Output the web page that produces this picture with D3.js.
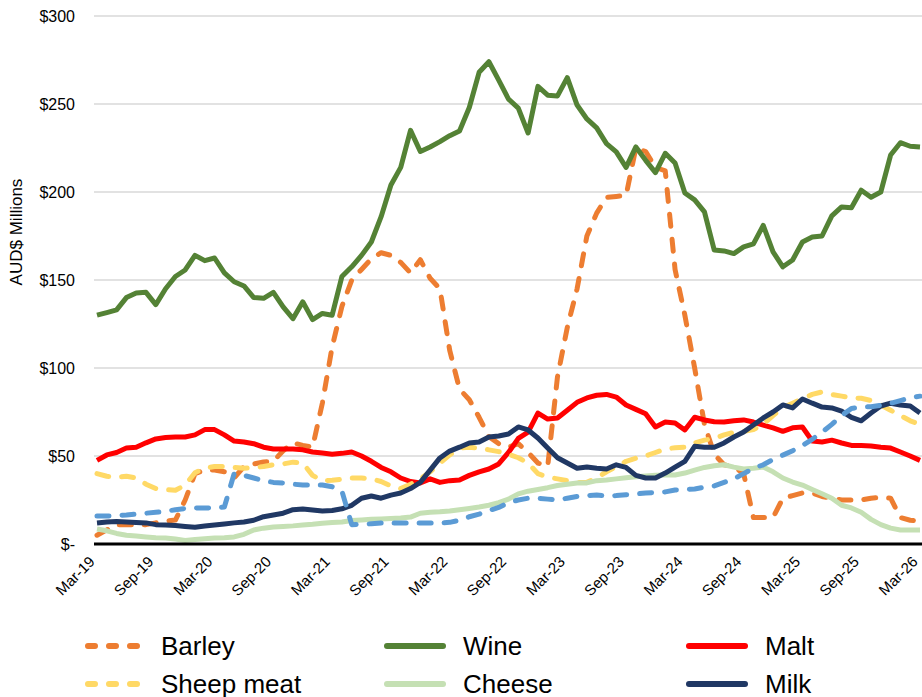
<!DOCTYPE html>
<html lang="en">
<head>
    <meta charset="UTF-8">
    <title>Exports chart</title>
    <script src="https://d3js.org/d3.v7.min.js"></script>
    <style>
        body {
            margin: 0;
            padding: 0;
            background: #ffffff;
        }
        svg {
            display: block;
            font-family: "Liberation Sans", Arial, sans-serif;
        }
        .grid line {
            stroke: #d9d9d9;
            stroke-width: 1.5;
        }
        .y-label, .x-label {
            fill: #000000;
        }
    </style>
</head>
<body>
    <svg id="chart"></svg>

    <script>
        // monthly series, Mar-19 .. Mar-26 (85 points)
        const barley = [
            5, 8, 11, 11, 11, 11, 12, 13, 13.6, 25,
            40, 42, 42, 41, 37.5, 44, 45.5, 46.6, 47, 53,
            57.5, 56, 55, 80, 112, 135, 150, 156, 162, 165.5,
            164, 160, 154, 161.5, 151, 145, 110, 88, 82, 72,
            61, 57, 55, 57, 52, 46, 44, 95, 123, 145,
            175, 188, 197, 197.5, 198, 225, 223, 214, 212, 156,
            130, 100, 68, 51, 45, 44, 40, 15, 15, 15,
            26, 27.5, 29, 29, 27, 26, 25, 25, 25, 26,
            26.5, 26, 15, 13.5, 13
        ];
        const wine = [
            130, 131.5, 133, 140, 142.6, 143, 136, 145, 152, 155.7,
            164, 161, 162.5, 154, 149, 146.6, 140, 139.6, 143, 134.7,
            128, 137.6, 127.5, 131, 130, 152, 157.5, 164, 171.6, 186,
            204, 214, 235, 223, 225.6, 228.6, 232, 234.7, 248, 268,
            274, 263.6, 252.8, 247.7, 233.5, 260, 255, 254.6, 265, 249.4,
            241.5, 236.4, 227.5, 222.8, 214, 225.6, 218, 211, 222, 216.5,
            199.4, 195.5, 188.7, 167, 166.5, 165, 168.8, 170.5, 181, 166,
            157.5, 161.4, 171.6, 174.4, 175, 186.4, 191.5, 191, 201, 197,
            200, 221, 228, 226, 225.6
        ];
        const malt = [
            47.5, 50.6, 52, 54.5, 55, 57.5, 59.7, 60.5, 60.8, 60.8,
            62, 65, 65, 62, 58.5, 58, 57, 55, 54, 54,
            54, 53.5, 52.3, 51.7, 51, 51.5, 52.3, 50, 47, 43.5,
            41, 37.5, 35.5, 34.7, 37, 35, 36, 36.4, 39, 41,
            42.6, 45.5, 52, 60, 63.6, 74.4, 71, 71.6, 76, 80.5,
            83, 84.5, 85, 83.5, 79, 76.5, 74, 66.5, 69.3, 68.8,
            64.8, 72, 70.5, 69.5, 69.3, 70, 70.5, 69.3, 67.6, 66,
            64, 66, 66.5, 58.5, 58, 59, 57.4, 56, 56, 55.7,
            55, 54.5, 52.3, 50, 47.5
        ];
        const sheepMeat = [
            40, 38.5, 38, 38.5, 37.5, 34, 31.5, 31, 30.5, 33.5,
            40.5, 43, 44, 44, 43.5, 43, 43.5, 44, 45, 45.5,
            46.5, 46, 39, 36, 36.2, 36.8, 37.5, 37.5, 37, 35.5,
            33, 31.5, 34, 37, 41, 46, 50.6, 54.5, 55, 54.5,
            53.5, 52.5, 51, 49, 46, 40, 38, 37, 36, 35,
            35, 37.5, 41, 44, 47, 48.7, 50, 52, 54, 54.7,
            55, 57.4, 59, 60, 62, 63.4, 64, 65, 68, 73,
            77.5, 80, 82.5, 85, 86.4, 85, 84, 83, 82.8, 81.5,
            79, 76, 73, 70, 68
        ];
        const cheese = [
            8.5, 7.5, 6, 5, 4.5, 4, 3.6, 3.4, 2.8, 2,
            2.5, 3, 3.4, 3.6, 4, 5.5, 8, 9, 9.7, 10,
            10.3, 10.8, 11.2, 11.8, 12.2, 12.5, 13.3, 13.6, 14, 14.2,
            14.5, 14.8, 15.3, 17.5, 18, 18.3, 18.8, 19.5, 20.2, 21,
            22, 23.5, 25.5, 28.5, 30, 31, 32, 33.2, 34, 34.7,
            34.7, 36, 36.4, 37, 37.7, 38.2, 38.6, 39, 39.2, 39.2,
            40.3, 42, 43.5, 44.5, 45, 43.7, 42.6, 43, 43.7, 41,
            37.5, 35.2, 33.5, 31, 28.5, 26, 22, 20.5, 18, 14,
            11, 9, 8, 8, 8
        ];
        const milk = [
            11.9, 12.5, 12.8, 12.5, 12.2, 12, 11, 10.8, 10.5, 10,
            9.5, 10.2, 10.8, 11.4, 12, 12.5, 13.5, 15.5, 16.5, 17.5,
            19.5, 19.9, 19.3, 18.8, 19, 20, 22, 26, 27.3, 26,
            27.8, 29, 31.5, 35, 42, 48.9, 52.8, 55, 57.4, 58,
            60.8, 61.4, 62.5, 66.5, 64.8, 60.2, 54.5, 49, 46, 43,
            43.7, 43, 42.6, 45, 43.5, 39, 37.5, 37.5, 40.3, 43.7,
            47, 55.5, 55, 55, 57.4, 60.8, 63.6, 67.6, 71.6, 75,
            79, 77.3, 82.4, 80, 77.8, 77.3, 75.5, 72, 70, 74.4,
            78.4, 80, 79, 78.4, 74.4
        ];
        const beef = [
            15.9, 15.9, 16.2, 16.5, 17, 17.5, 18, 18.5, 19.5, 20.2,
            20.5, 20.5, 20.5, 21, 40, 39, 37.5, 36, 35, 34.7,
            34, 33.5, 33.5, 33.5, 32.5, 30, 11, 11.2, 11.5, 11.9,
            11.9, 11.9, 11.9, 11.9, 11.9, 11.9, 12.3, 13.5, 15.5, 17,
            19, 20.8, 23.5, 25, 26, 26, 25.5, 25, 26, 27,
            27.5, 27.8, 27.3, 27.5, 28, 28.4, 29, 29.3, 29.6, 30.7,
            31, 31.3, 32.2, 33, 35, 37, 40, 43, 45, 48,
            50.5, 53, 56, 59.5, 63.5, 68, 73, 77, 77.8, 78,
            78.8, 80, 81.5, 83, 84
        ];

        // x tick labels (every 6 months) and y ticks
        const xTickLabels = ["Mar-19", "Sep-19", "Mar-20", "Sep-20", "Mar-21", "Sep-21", "Mar-22", "Sep-22",
                             "Mar-23", "Sep-23", "Mar-24", "Sep-24", "Mar-25", "Sep-25", "Mar-26"];
        const yTicks = [0, 50, 100, 150, 200, 250, 300];

        // month categories
        const months = d3.timeMonth.range(new Date(2019, 2, 1), new Date(2026, 3, 1))
            .map(d3.timeFormat("%b-%y"));

        // series in draw order (legend reads row by row)
        const series = [
            { name: "Barley", values: barley, color: "#ed7d31", dashed: true },
            { name: "Wine", values: wine, color: "#548235", dashed: false },
            { name: "Malt", values: malt, color: "#ff0000", dashed: false },
            { name: "Sheep meat", values: sheepMeat, color: "#ffd966", dashed: true },
            { name: "Cheese", values: cheese, color: "#c5e0b4", dashed: false },
            { name: "Milk", values: milk, color: "#203864", dashed: false },
            { name: "Beef", values: beef, color: "#5b9bd5", dashed: true }
        ];

        const W = 922, H = 697;
        const plotLeft = 94, plotRight = 922, plotTop = 16, plotBottom = 544;

        const svg = d3.select("#chart")
            .attr("width", W)
            .attr("height", H);

        const x = d3.scalePoint()
            .domain(months)
            .range([97, 920]);

        const y = d3.scaleLinear()
            .domain([0, 300])
            .range([plotBottom, plotTop]);

        // gridlines
        svg.append("g")
            .attr("class", "grid")
            .selectAll("line")
            .data(yTicks.filter(d => d > 0))
            .join("line")
            .attr("x1", plotLeft)
            .attr("x2", plotRight)
            .attr("y1", d => y(d))
            .attr("y2", d => y(d));

        // y axis labels
        svg.append("g")
            .selectAll("text")
            .data(yTicks)
            .join("text")
            .attr("class", "y-label")
            .attr("x", 75)
            .attr("y", d => y(d))
            .attr("dy", "0.35em")
            .attr("text-anchor", "end")
            .style("font-size", "16px")
            .text(d => d === 0 ? "$-" : "$" + d);

        // y axis title
        svg.append("text")
            .attr("transform", `translate(22, ${y(150) - 48}) rotate(-90)`)
            .attr("text-anchor", "middle")
            .style("font-size", "17px")
            .text("AUD$ Millions");

        // lines
        const line = d3.line()
            .x((d, i) => x(months[i]))
            .y(d => y(d));

        svg.append("g")
            .selectAll("path")
            .data(series)
            .join("path")
            .attr("d", d => line(d.values))
            .attr("fill", "none")
            .attr("stroke", d => d.color)
            .attr("stroke-width", 5)
            .attr("stroke-linejoin", "round")
            .attr("stroke-linecap", d => d.dashed ? "round" : "butt")
            .attr("stroke-dasharray", d => d.dashed ? "12,13" : null);

        // x axis line
        svg.append("line")
            .attr("x1", plotLeft)
            .attr("x2", plotRight)
            .attr("y1", plotBottom)
            .attr("y2", plotBottom)
            .attr("stroke", "#000")
            .attr("stroke-width", 3);

        // x tick labels
        const xTicks = months.filter((m, i) => i % 6 === 0);
        svg.append("g")
            .selectAll("text")
            .data(xTicks)
            .join("text")
            .attr("class", "x-label")
            .attr("transform", d => `translate(${x(d) - 5}, ${plotBottom + 15}) rotate(-45)`)
            .attr("text-anchor", "end")
            .attr("dy", "0.35em")
            .style("font-size", "15px")
            .text((d, i) => xTickLabels[i]);

        // legend, 3 columns
        const legend = svg.append("g");
        const item = legend.selectAll("g")
            .data(series)
            .join("g")
            .attr("transform", (d, i) => `translate(${85 + (i % 3) * 302}, ${646 + Math.floor(i / 3) * 38})`);

        item.append("line")
            .attr("x1", d => d.dashed ? 3 : 0)
            .attr("x2", d => d.dashed ? 53 : 56)
            .attr("stroke", d => d.color)
            .attr("stroke-width", 6)
            .attr("stroke-linecap", "round")
            .attr("stroke-dasharray", d => d.dashed ? "7,14" : null);

        item.append("text")
            .attr("x", 76)
            .attr("dy", "0.35em")
            .style("font-size", "26px")
            .text(d => d.name);
    </script>
</body>
</html>
